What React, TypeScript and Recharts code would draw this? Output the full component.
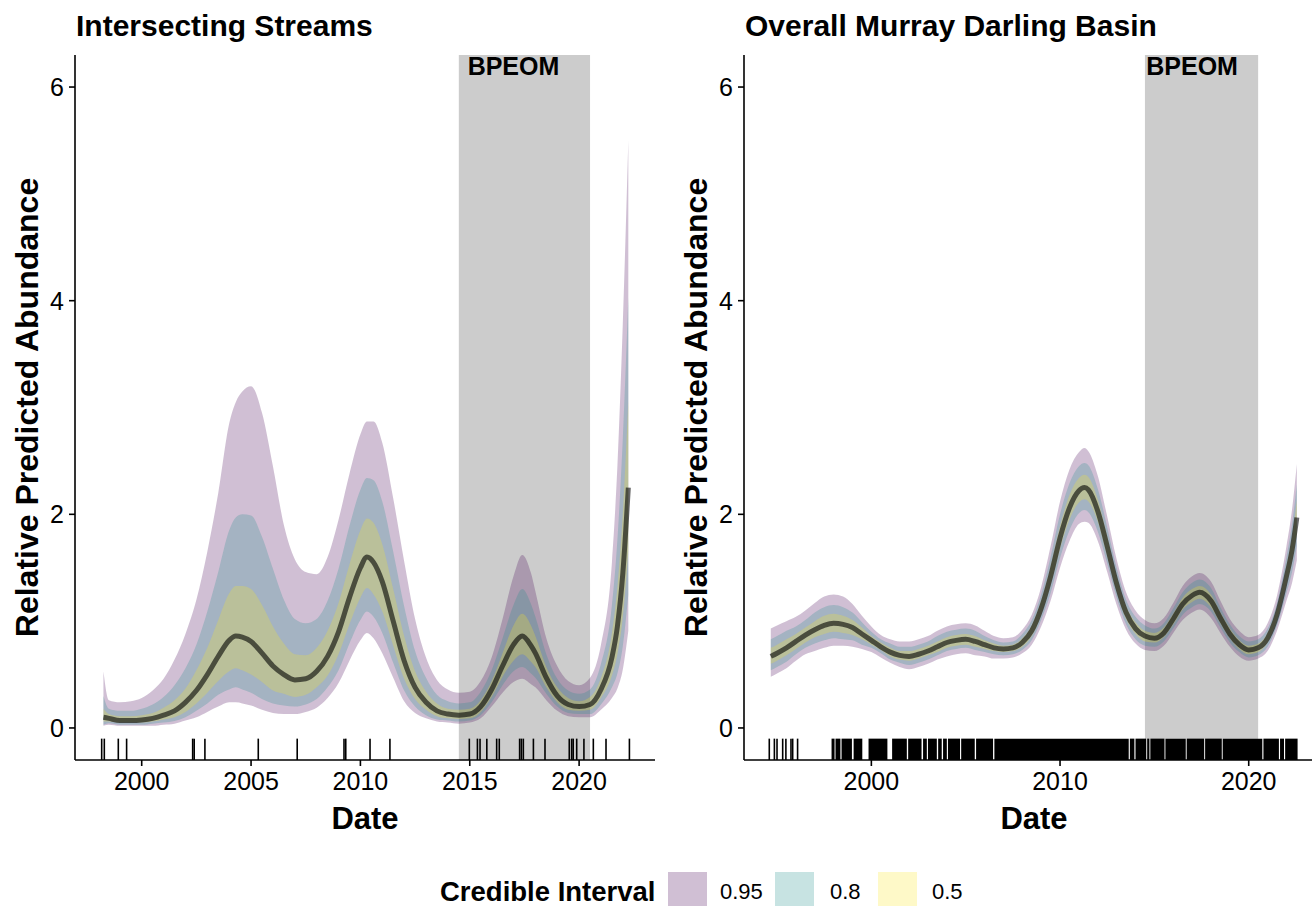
import React from 'react';
import { ComposedChart, Area, Line, XAxis, YAxis, ReferenceArea, ReferenceLine, ReferenceDot, Label } from 'recharts';

// Intersecting Streams: posterior median and credible bounds
const streamYears = [1998.25, 1998.5, 1999.0, 1999.5, 2000.0, 2000.5, 2001.0, 2001.5, 2002.0, 2002.5, 2003.0, 2003.5, 2004.0, 2004.3, 2004.6, 2005.0, 2005.5, 2006.0, 2006.5, 2007.0, 2007.5, 2008.0, 2008.5, 2009.0, 2009.5, 2010.0, 2010.3, 2010.6, 2011.0, 2011.5, 2012.0, 2012.5, 2013.0, 2013.5, 2014.0, 2014.5, 2015.0, 2015.5, 2016.0, 2016.5, 2017.0, 2017.4, 2017.8, 2018.0, 2018.5, 2019.0, 2019.5, 2020.0, 2020.5, 2021.0, 2021.5, 2021.75, 2022.0, 2022.25];
const streamMid = [0.10, 0.09, 0.07, 0.07, 0.075, 0.09, 0.12, 0.16, 0.24, 0.35, 0.50, 0.67, 0.82, 0.86, 0.85, 0.81, 0.70, 0.58, 0.50, 0.45, 0.46, 0.53, 0.67, 0.90, 1.22, 1.50, 1.60, 1.55, 1.37, 1.00, 0.63, 0.38, 0.24, 0.16, 0.13, 0.12, 0.13, 0.20, 0.36, 0.58, 0.78, 0.86, 0.77, 0.70, 0.47, 0.30, 0.22, 0.20, 0.22, 0.36, 0.66, 0.95, 1.45, 2.25];
const streamHi95 = [0.53, 0.26, 0.24, 0.25, 0.28, 0.35, 0.46, 0.64, 0.88, 1.20, 1.65, 2.20, 2.85, 3.05, 3.15, 3.20, 2.95, 2.45, 1.90, 1.58, 1.46, 1.44, 1.60, 1.95, 2.38, 2.75, 2.87, 2.87, 2.67, 2.15, 1.56, 1.02, 0.66, 0.45, 0.36, 0.33, 0.34, 0.44, 0.66, 1.02, 1.42, 1.62, 1.45, 1.28, 0.84, 0.58, 0.44, 0.40, 0.47, 0.78, 1.55, 2.45, 3.80, 5.50];
const streamHi80 = [0.30, 0.18, 0.16, 0.16, 0.18, 0.22, 0.29, 0.40, 0.56, 0.78, 1.09, 1.46, 1.85, 1.97, 2.00, 1.99, 1.79, 1.49, 1.20, 1.02, 0.98, 1.02, 1.19, 1.49, 1.89, 2.23, 2.34, 2.32, 2.12, 1.65, 1.14, 0.72, 0.47, 0.31, 0.25, 0.23, 0.24, 0.34, 0.54, 0.84, 1.15, 1.30, 1.16, 1.04, 0.69, 0.46, 0.35, 0.32, 0.36, 0.60, 1.15, 1.76, 2.72, 4.03];
const streamHi50 = [0.18, 0.13, 0.11, 0.11, 0.12, 0.14, 0.19, 0.26, 0.37, 0.54, 0.75, 1.01, 1.26, 1.33, 1.33, 1.30, 1.15, 0.95, 0.79, 0.69, 0.68, 0.75, 0.91, 1.17, 1.53, 1.85, 1.96, 1.92, 1.72, 1.30, 0.86, 0.53, 0.34, 0.23, 0.18, 0.17, 0.18, 0.26, 0.44, 0.70, 0.96, 1.07, 0.96, 0.86, 0.57, 0.38, 0.28, 0.25, 0.29, 0.47, 0.89, 1.32, 2.02, 3.06];
const streamLo50 = [0.06, 0.06, 0.05, 0.05, 0.05, 0.06, 0.08, 0.10, 0.15, 0.23, 0.33, 0.44, 0.53, 0.56, 0.54, 0.50, 0.43, 0.35, 0.32, 0.29, 0.31, 0.38, 0.49, 0.69, 0.97, 1.22, 1.31, 1.25, 1.09, 0.77, 0.46, 0.27, 0.17, 0.11, 0.09, 0.085, 0.09, 0.15, 0.29, 0.48, 0.63, 0.69, 0.62, 0.57, 0.38, 0.24, 0.17, 0.16, 0.17, 0.28, 0.49, 0.69, 1.04, 1.65];
const streamLo80 = [0.03, 0.045, 0.03, 0.03, 0.03, 0.04, 0.05, 0.065, 0.10, 0.16, 0.23, 0.31, 0.36, 0.38, 0.36, 0.33, 0.27, 0.23, 0.21, 0.20, 0.22, 0.27, 0.38, 0.54, 0.79, 1.01, 1.09, 1.04, 0.89, 0.61, 0.35, 0.20, 0.12, 0.08, 0.07, 0.06, 0.07, 0.12, 0.24, 0.40, 0.53, 0.57, 0.51, 0.47, 0.32, 0.20, 0.14, 0.13, 0.13, 0.22, 0.38, 0.51, 0.77, 1.25];
const streamLo95 = [0.02, 0.03, 0.02, 0.02, 0.02, 0.02, 0.03, 0.04, 0.07, 0.10, 0.15, 0.20, 0.24, 0.24, 0.23, 0.21, 0.17, 0.14, 0.13, 0.13, 0.15, 0.19, 0.28, 0.42, 0.63, 0.82, 0.89, 0.84, 0.70, 0.47, 0.25, 0.14, 0.09, 0.06, 0.05, 0.04, 0.05, 0.09, 0.20, 0.33, 0.43, 0.46, 0.41, 0.38, 0.26, 0.16, 0.11, 0.10, 0.10, 0.17, 0.28, 0.37, 0.55, 0.91];
const streamRug = [1998.17, 1998.29, 1998.93, 1999.31, 2002.33, 2002.4, 2002.89, 2005.33, 2007.11, 2009.25, 2009.33, 2010.44, 2011.35, 2014.98, 2015.35, 2015.47, 2015.78, 2016.23, 2016.35, 2017.28, 2017.36, 2017.45, 2017.91, 2018.44, 2019.55, 2019.66, 2019.73, 2019.89, 2020.22, 2020.65, 2021.23, 2022.3];

// Overall Murray Darling Basin
const basinYears = [1994.67, 1995.0, 1995.5, 1996.0, 1996.5, 1997.0, 1997.5, 1998.0, 1998.5, 1999.0, 1999.5, 2000.0, 2000.5, 2001.0, 2001.5, 2002.0, 2002.5, 2003.0, 2003.5, 2004.0, 2004.5, 2005.0, 2005.5, 2006.0, 2006.5, 2007.0, 2007.5, 2008.0, 2008.5, 2009.0, 2009.5, 2010.0, 2010.5, 2011.0, 2011.3, 2011.5, 2012.0, 2012.5, 2013.0, 2013.5, 2014.0, 2014.5, 2015.0, 2015.5, 2016.0, 2016.5, 2017.0, 2017.4, 2018.0, 2018.5, 2019.0, 2019.5, 2020.0, 2020.5, 2021.0, 2021.5, 2022.0, 2022.3, 2022.55];
const basinMid = [0.67, 0.70, 0.75, 0.81, 0.87, 0.92, 0.96, 0.98, 0.97, 0.94, 0.88, 0.82, 0.76, 0.71, 0.68, 0.67, 0.69, 0.72, 0.76, 0.80, 0.82, 0.83, 0.81, 0.78, 0.75, 0.74, 0.75, 0.80, 0.91, 1.12, 1.42, 1.78, 2.06, 2.22, 2.25, 2.23, 2.03, 1.70, 1.35, 1.08, 0.93, 0.86, 0.84, 0.89, 1.02, 1.16, 1.24, 1.27, 1.19, 1.03, 0.88, 0.78, 0.73, 0.75, 0.84, 1.06, 1.42, 1.67, 1.97];
const basinHi95 = [0.93, 0.96, 1.00, 1.04, 1.10, 1.17, 1.23, 1.25, 1.23, 1.16, 1.05, 0.95, 0.87, 0.83, 0.81, 0.81, 0.83, 0.86, 0.91, 0.95, 0.97, 0.98, 0.96, 0.91, 0.86, 0.84, 0.85, 0.92, 1.06, 1.32, 1.70, 2.12, 2.42, 2.58, 2.62, 2.59, 2.36, 1.98, 1.58, 1.27, 1.10, 1.01, 0.98, 1.03, 1.17, 1.33, 1.42, 1.45, 1.37, 1.19, 1.02, 0.91, 0.85, 0.87, 0.98, 1.24, 1.70, 2.05, 2.47];
const basinHi80 = [0.83, 0.86, 0.91, 0.95, 1.01, 1.08, 1.13, 1.15, 1.13, 1.08, 0.99, 0.90, 0.83, 0.79, 0.76, 0.76, 0.78, 0.81, 0.86, 0.90, 0.92, 0.93, 0.91, 0.86, 0.82, 0.80, 0.81, 0.88, 1.01, 1.25, 1.60, 2.00, 2.29, 2.45, 2.48, 2.46, 2.24, 1.88, 1.50, 1.20, 1.04, 0.96, 0.93, 0.98, 1.12, 1.27, 1.36, 1.39, 1.31, 1.13, 0.97, 0.86, 0.81, 0.83, 0.93, 1.17, 1.60, 1.91, 2.28];
const basinHi50 = [0.75, 0.78, 0.83, 0.88, 0.94, 1.00, 1.05, 1.07, 1.05, 1.01, 0.94, 0.86, 0.80, 0.75, 0.72, 0.72, 0.74, 0.77, 0.81, 0.85, 0.87, 0.88, 0.86, 0.82, 0.79, 0.77, 0.78, 0.84, 0.96, 1.19, 1.51, 1.89, 2.18, 2.34, 2.37, 2.35, 2.14, 1.79, 1.42, 1.14, 0.99, 0.91, 0.89, 0.94, 1.07, 1.22, 1.30, 1.33, 1.25, 1.08, 0.93, 0.82, 0.77, 0.79, 0.89, 1.12, 1.51, 1.79, 2.13];
const basinLo50 = [0.60, 0.63, 0.68, 0.74, 0.80, 0.85, 0.88, 0.90, 0.89, 0.87, 0.83, 0.78, 0.73, 0.67, 0.64, 0.63, 0.65, 0.68, 0.71, 0.75, 0.77, 0.78, 0.76, 0.74, 0.72, 0.71, 0.72, 0.76, 0.86, 1.06, 1.34, 1.68, 1.95, 2.11, 2.14, 2.12, 1.93, 1.61, 1.28, 1.02, 0.88, 0.81, 0.80, 0.85, 0.97, 1.11, 1.18, 1.21, 1.13, 0.98, 0.84, 0.74, 0.69, 0.71, 0.80, 1.01, 1.34, 1.56, 1.82];
const basinLo80 = [0.54, 0.57, 0.62, 0.69, 0.75, 0.79, 0.82, 0.84, 0.83, 0.82, 0.78, 0.75, 0.70, 0.64, 0.61, 0.59, 0.61, 0.64, 0.68, 0.72, 0.74, 0.75, 0.73, 0.71, 0.69, 0.68, 0.69, 0.73, 0.82, 1.01, 1.26, 1.59, 1.85, 2.01, 2.04, 2.02, 1.84, 1.54, 1.22, 0.97, 0.83, 0.77, 0.76, 0.81, 0.93, 1.06, 1.13, 1.16, 1.09, 0.94, 0.80, 0.71, 0.66, 0.68, 0.76, 0.96, 1.26, 1.46, 1.70];
const basinLo95 = [0.48, 0.51, 0.56, 0.63, 0.69, 0.72, 0.75, 0.77, 0.77, 0.76, 0.74, 0.71, 0.66, 0.61, 0.57, 0.55, 0.57, 0.60, 0.64, 0.67, 0.69, 0.70, 0.68, 0.67, 0.65, 0.65, 0.66, 0.70, 0.78, 0.95, 1.19, 1.50, 1.75, 1.91, 1.93, 1.92, 1.75, 1.46, 1.15, 0.92, 0.79, 0.73, 0.72, 0.77, 0.89, 1.01, 1.08, 1.11, 1.03, 0.89, 0.76, 0.67, 0.63, 0.65, 0.72, 0.91, 1.19, 1.36, 1.57];
// sparse early surveys, then runs of dates too dense to separate
const basinRug = [1994.59, 1994.86, 1995.0, 1995.3, 1995.47, 1995.74, 1995.83, 1996.09];
const basinRugRuns = [
  [1997.89, 1998.05], [1998.1, 1998.36], [1998.42, 1998.97], [1999.06, 1999.52], [1999.85, 2000.85],
  [2001.1, 2001.88], [2001.95, 2002.66], [2002.74, 2002.94], [2003.0, 2003.47], [2003.54, 2003.73],
  [2003.8, 2004.0], [2004.06, 2004.7], [2004.76, 2005.48], [2005.55, 2006.45], [2006.52, 2013.64],
  [2013.7, 2013.94], [2014.0, 2014.56], [2014.62, 2014.73], [2014.79, 2015.53], [2015.59, 2016.66],
  [2016.72, 2017.63], [2017.69, 2018.57], [2018.63, 2020.72], [2020.78, 2021.6], [2021.66, 2021.87],
  [2021.93, 2022.59],
];

const bpeom = [2014.5, 2020.5];
const bpeomLabelAt = 2017;
const yTicks = [0, 2, 4, 6];
const yDomain = [-0.3, 6.3];
const rugTop = -0.1;
const streamXTicks = [2000, 2005, 2010, 2015, 2020];
const basinXTicks = [2000, 2010, 2020];

const intervals = [
  { key: 'r95', label: '0.95', color: '#440154' },
  { key: 'r80', label: '0.8', color: '#21908C' },
  { key: 'r50', label: '0.5', color: '#FDE725' },
];

const FONT = '"Liberation Sans", Arial, sans-serif';

function buildRows(years: number[], mid: number[], lo95: number[], hi95: number[], lo80: number[], hi80: number[], lo50: number[], hi50: number[]) {
  return years.map((x, i) => ({
    x,
    mid: mid[i],
    r95: [lo95[i], hi95[i]],
    r80: [lo80[i], hi80[i]],
    r50: [lo50[i], hi50[i]],
  }));
}

const streamRows = buildRows(streamYears, streamMid, streamLo95, streamHi95, streamLo80, streamHi80, streamLo50, streamHi50);
const basinRows = buildRows(basinYears, basinMid, basinLo95, basinHi95, basinLo80, basinHi80, basinLo50, basinHi50);

const YTitle = (props: any) => {
  const { viewBox } = props;
  const cx = viewBox.x + 27;
  const cy = viewBox.y + viewBox.height / 2;
  return (
    <text x={cx} y={cy} transform={`rotate(-90 ${cx} ${cy})`} textAnchor="middle" dominantBaseline="central"
      fontSize={32} fontWeight="bold" fill="#000">
      Relative Predicted Abundance
    </text>
  );
};

const XTitle = (props: any) => {
  const { viewBox } = props;
  return (
    <text x={viewBox.x + viewBox.width / 2} y={viewBox.y + 69} textAnchor="middle" fontSize={31} fontWeight="bold" fill="#000">
      Date
    </text>
  );
};

type PanelProps = {
  left: number;
  title: string;
  rows: any[];
  xDomain: number[];
  xTicks: number[];
  rug: number[];
  rugRuns?: number[][];
};

function Panel({ left, title, rows, xDomain, xTicks, rug, rugRuns = [] }: PanelProps) {
  const axisStroke = { stroke: '#000', strokeWidth: 1.6 };
  return (
    <div style={{ position: 'absolute', left, top: 0 }}>
      <div style={{ position: 'absolute', left: 76, top: 10, fontSize: 30, fontWeight: 'bold', lineHeight: '32px', whiteSpace: 'nowrap' }}>
        {title}
      </div>
      <ComposedChart width={680} height={850} data={rows} margin={{ top: 55, right: 25, bottom: 0, left: 0 }}>
        <XAxis type="number" dataKey="x" domain={xDomain} ticks={xTicks} allowDataOverflow height={90}
          tickSize={6} tickMargin={6} axisLine={axisStroke} tickLine={axisStroke}
          tick={{ fill: '#000', fontSize: 25 }}>
          <Label content={XTitle} />
        </XAxis>
        <YAxis type="number" domain={yDomain} ticks={yTicks} allowDataOverflow width={75}
          tickSize={6} tickMargin={5} axisLine={axisStroke} tickLine={axisStroke}
          tick={{ fill: '#000', fontSize: 25 }}>
          <Label content={YTitle} />
        </YAxis>
        <ReferenceArea x1={bpeom[0]} x2={bpeom[1]} y1={yDomain[0]} y2={yDomain[1]} fill="#cccccc" fillOpacity={1} stroke="none" />
        <ReferenceDot x={bpeomLabelAt} y={yDomain[1]} r={1} fill="none" stroke="none" ifOverflow="visible"
          label={{ value: 'BPEOM', position: 'bottom', offset: 1, fill: '#000', fontSize: 25, fontWeight: 'bold' }} />
        {intervals.map((iv) => (
          <Area key={iv.key} dataKey={iv.key} type="monotone" fill={iv.color} fillOpacity={0.25} stroke="none"
            isAnimationActive={false} />
        ))}
        <Line dataKey="mid" type="monotone" stroke="#000" strokeOpacity={0.6} strokeWidth={5} dot={false}
          isAnimationActive={false} />
        {rugRuns.map(([a, b]) => (
          <ReferenceArea key={`run-${a}`} x1={a} x2={b} y1={yDomain[0]} y2={rugTop} fill="#000" fillOpacity={1} stroke="none" />
        ))}
        {rug.map((yr) => (
          <ReferenceLine key={`rug-${yr}`} ifOverflow="visible"
            segment={[{ x: yr, y: yDomain[0] }, { x: yr, y: rugTop }]} stroke="#000" strokeWidth={1.6} />
        ))}
      </ComposedChart>
    </div>
  );
}

function CredibleLegend() {
  // width of each label cell, including the gap before the next key
  const labelCells = [68, 64, 50];
  const labelPads = [13, 16, 15];
  return (
    <div style={{ position: 'absolute', left: 440, top: 872, display: 'flex', alignItems: 'center', height: 40 }}>
      <span style={{ flex: 'none', fontSize: 27.5, fontWeight: 'bold', width: 228, whiteSpace: 'nowrap' }}>Credible Interval</span>
      {intervals.map((iv, i) => (
        <React.Fragment key={iv.key}>
          <span style={{ flex: 'none', position: 'relative', width: 39, height: 40, background: '#fff' }}>
            <span style={{ position: 'absolute', inset: 0, background: iv.color, opacity: 0.25 }} />
          </span>
          <span style={{ flex: 'none', fontSize: 22, paddingLeft: labelPads[i], width: labelCells[i], boxSizing: 'border-box', whiteSpace: 'nowrap' }}>
            {iv.label}
          </span>
        </React.Fragment>
      ))}
    </div>
  );
}

export default function App() {
  return (
    <div style={{ position: 'absolute', left: 0, top: 0, width: 1312, height: 906, overflow: 'hidden', background: '#fff', fontFamily: FONT, color: '#000' }}>
      <Panel left={0} title="Intersecting Streams" rows={streamRows} xDomain={[1996.95, 2023.47]} xTicks={streamXTicks} rug={streamRug} />
      <Panel left={669} title="Overall Murray Darling Basin" rows={basinRows} xDomain={[1993.25, 2023.99]} xTicks={basinXTicks}
        rug={basinRug} rugRuns={basinRugRuns} />
      <CredibleLegend />
    </div>
  );
}
